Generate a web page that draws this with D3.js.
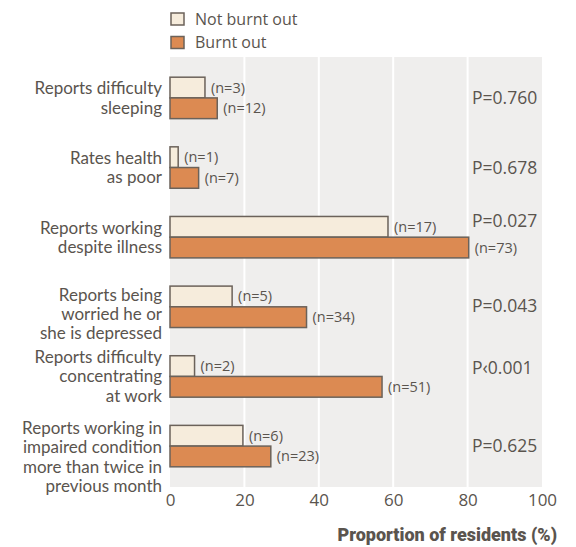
<!DOCTYPE html>
<html>
<head>
<meta charset="utf-8">
<script src="https://cdn.jsdelivr.net/npm/d3@7"></script>
<style>
  html, body { margin: 0; padding: 0; background: #ffffff; }
  svg { display: block; }
  text { font-family: "Open Sans", "Noto Sans", sans-serif; fill: #5a544e; }
</style>
</head>
<body>
<svg id="chart" width="576" height="547"></svg>
<script>
// ---- data ----
const categories = [
  ["Reports difficulty", "sleeping"],
  ["Rates health", "as poor"],
  ["Reports working", "despite illness"],
  ["Reports being", "worried he or", "she is depressed"],
  ["Reports difficulty", "concentrating", "at work"],
  ["Reports working in", "impaired condition", "more than twice in", "previous month"]
];
const seriesNames = ["Not burnt out", "Burnt out"];
const notBurntOut = [9.4, 2.2, 58.6, 16.7, 6.6, 19.6];
const burntOut = [12.7, 7.7, 80.3, 36.7, 57.0, 27.1];
const notBurntN = [3, 1, 17, 5, 2, 6];
const burntN = [12, 7, 73, 34, 51, 23];
const pValues = ["P=0.760", "P=0.678", "P=0.027", "P=0.043", "P\u20390.001", "P=0.625"];
const xTicks = [0, 20, 40, 60, 80, 100];
const xTitle = "Proportion of residents (%)";

// ---- layout (not data) ----
const colors = ["#f6ecdc", "#dc8a52"];
const stroke = "#6b625a";
const labelShift = [0, 0, 0, 7, 0, 11];
const pShift = [0, 0, -16, -1, -8, 0];

const svg = d3.select("#chart");
const plot = { left: 170, right: 542, top: 57, bottom: 487 };

const x = d3.scaleLinear().domain([0, 100]).range([plot.left, plot.right]);
const y = d3.scaleBand().domain(d3.range(categories.length))
  .range([plot.top, plot.bottom]).paddingInner(0.405).paddingOuter(0.29);
const sub = d3.scaleBand().domain([0, 1]).range([0, y.bandwidth()]);

// background
svg.append("rect").attr("x", plot.left).attr("y", plot.top)
  .attr("width", x(100) - x(0)).attr("height", plot.bottom - plot.top)
  .attr("fill", "#efeeed");

// grid lines
svg.append("g").selectAll("line").data(xTicks.filter(d => d > 0 && d < 100)).join("line")
  .attr("x1", d => x(d)).attr("x2", d => x(d))
  .attr("y1", plot.top).attr("y2", plot.bottom)
  .attr("stroke", "#ffffff").attr("stroke-width", 2);

// axis
const axis = d3.axisBottom(x).tickValues(xTicks).tickSize(0).tickPadding(0).tickFormat(d3.format("d"));
const ax = svg.append("g").attr("transform", `translate(0,${plot.bottom})`).call(axis);
ax.select(".domain").remove();
ax.selectAll("text").attr("dy", null).attr("y", 19)
  .style("font-size", "17px").style("font-family", "'Open Sans', sans-serif").attr("fill", "#5a544e");

// bars
const series = [notBurntOut, burntOut];
const ns = [notBurntN, burntN];
series.forEach((vals, s) => {
  const g = svg.append("g");
  g.selectAll("rect").data(vals).join("rect")
    .attr("x", x(0))
    .attr("y", (d, i) => y(i) + sub(s))
    .attr("width", d => x(d) - x(0))
    .attr("height", sub.bandwidth())
    .attr("fill", colors[s]).attr("stroke", stroke).attr("stroke-width", 1.5);
  g.selectAll("text").data(vals).join("text")
    .attr("x", d => x(d) + 6)
    .attr("y", (d, i) => y(i) + sub(s) + sub.bandwidth() / 2 + 5)
    .style("font-size", "14.5px")
    .text((d, i) => `(n=${ns[s][i]})`);
});

// category labels
const lineH = 19.2;
categories.forEach((lines, i) => {
  const cy = y(i) + y.bandwidth() / 2 + labelShift[i];
  const t = svg.append("text").attr("text-anchor", "end")
    .style("font-family", "Lato, 'Open Sans', sans-serif").style("font-size", "17px");
  lines.forEach((ln, k) => {
    t.append("tspan").attr("x", 162)
      .attr("y", cy + (k - (lines.length - 1) / 2) * lineH + 6)
      .text(ln);
  });
});

// p-values
svg.append("g").selectAll("text").data(pValues).join("text")
  .attr("x", 472)
  .attr("y", (d, i) => y(i) + y.bandwidth() / 2 + 6 + pShift[i])
  .style("font-size", "17.5px")
  .text(d => d);

// legend
const legend = svg.append("g");
seriesNames.forEach((name, s) => {
  legend.append("rect").attr("x", 171).attr("y", 13 + s * 23.5)
    .attr("width", 13).attr("height", 12)
    .attr("fill", colors[s]).attr("stroke", stroke).attr("stroke-width", 1.5);
  legend.append("text").attr("x", 195).attr("y", 25 + s * 22.5)
    .style("font-size", "16px").text(name);
});

// x title
svg.append("text").attr("x", 557).attr("y", 541).attr("text-anchor", "end")
  .style("font-family", "Roboto, 'Open Sans', sans-serif").style("font-weight", "900")
  .style("font-size", "18px").attr("fill", "#5a544e")
  .text(xTitle);
</script>
</body>
</html>
